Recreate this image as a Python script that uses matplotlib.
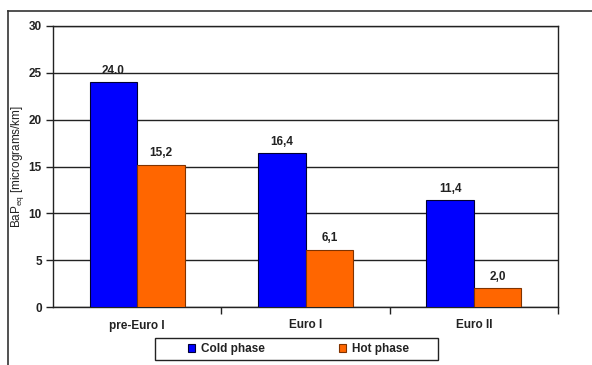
import numpy as np
import matplotlib
matplotlib.use('Agg')
from matplotlib import pyplot as plt
from matplotlib.lines import Line2D
from matplotlib.patches import Rectangle

plt.rcParams['font.family'] = ['Liberation Sans', 'DejaVu Sans']

categories = ['pre-Euro I', 'Euro I', 'Euro II']
cold = [24.0, 16.4, 11.4]
hot = [15.2, 6.1, 2.0]
cold_labels = ['24.0', '16,4', '11,4']
hot_labels = ['15,2', '6,1', '2,0']

W, H = 592, 365
fig = plt.figure(figsize=(W / 100, H / 100), dpi=100)
ax = fig.add_axes([53 / W, 1 - 307 / H, 505 / W, 281 / H])

# outer frame (top and left edges only visible)
fig.add_artist(Line2D([8 / W, 1.0], [1 - 11 / H, 1 - 11 / H], transform=fig.transFigure, color='#333333', lw=1.2))
fig.add_artist(Line2D([8 / W, 8 / W], [0.0, 1 - 11 / H], transform=fig.transFigure, color='#333333', lw=1.2))

x = np.arange(len(categories))
w = 0.283
ax.bar(x - w / 2, cold, w, color='#0000FF', edgecolor='#000033', lw=0.8, zorder=3, label='Cold phase')
ax.bar(x + w / 2, hot, w, color='#FF6600', edgecolor='#803300', lw=0.8, zorder=3, label='Hot phase')

for xi, v, s in zip(x, cold, cold_labels):
    ax.text(xi - w / 2, v + 0.6, s, ha='center', va='bottom', fontsize=8.5, fontweight='bold', color='#222222')
for xi, v, s in zip(x, hot, hot_labels):
    ax.text(xi + w / 2, v + 0.6, s, ha='center', va='bottom', fontsize=8.5, fontweight='bold', color='#222222')

ax.set_xlim(-0.5, 2.5)
ax.set_ylim(0, 30)
ax.set_yticks(range(0, 31, 5))
ax.yaxis.grid(True, color='#222222', lw=1.0, zorder=0)
ax.set_axisbelow(True)
for sp in ax.spines.values():
    sp.set_color('#222222')
    sp.set_linewidth(1.0)

ax.set_xticks(x)
ax.set_xticklabels(categories, fontsize=8.5, fontweight='bold', color='#222222')
ax.tick_params(axis='x', length=0, pad=9)
ax.set_xticks([0.5, 1.5, 2.5], minor=True)
ax.tick_params(axis='x', which='minor', length=5, width=1.0, color='#222222')
ax.tick_params(axis='y', length=5, width=1.0, color='#222222', labelsize=8.5, pad=3)
for lab in ax.get_yticklabels():
    lab.set_fontweight('bold')
    lab.set_color('#222222')

ax.set_ylabel('BaP$_{\\mathregular{eq}}$ [micrograms/km]', fontsize=8.5, color='#222222')
ax.yaxis.set_label_coords(-27 / 505, 0.5)

# legend box drawn separately so it can be wider than its entries
fig.add_artist(Rectangle((155 / W, 1 - 360 / H), 283 / W, 22 / H, transform=fig.transFigure,
                         fill=False, edgecolor='#222222', lw=1.0))
leg = fig.legend(loc='center left', bbox_to_anchor=(188 / W, 1 - 349 / H), ncol=2, fontsize=8.5,
                 frameon=False, handlelength=0.6, handleheight=0.6, borderpad=0, borderaxespad=0,
                 handletextpad=0.5, columnspacing=6.3)
for t in leg.get_texts():
    t.set_fontweight('bold')
    t.set_color('#222222')

fig.savefig('out.png', dpi=100)
